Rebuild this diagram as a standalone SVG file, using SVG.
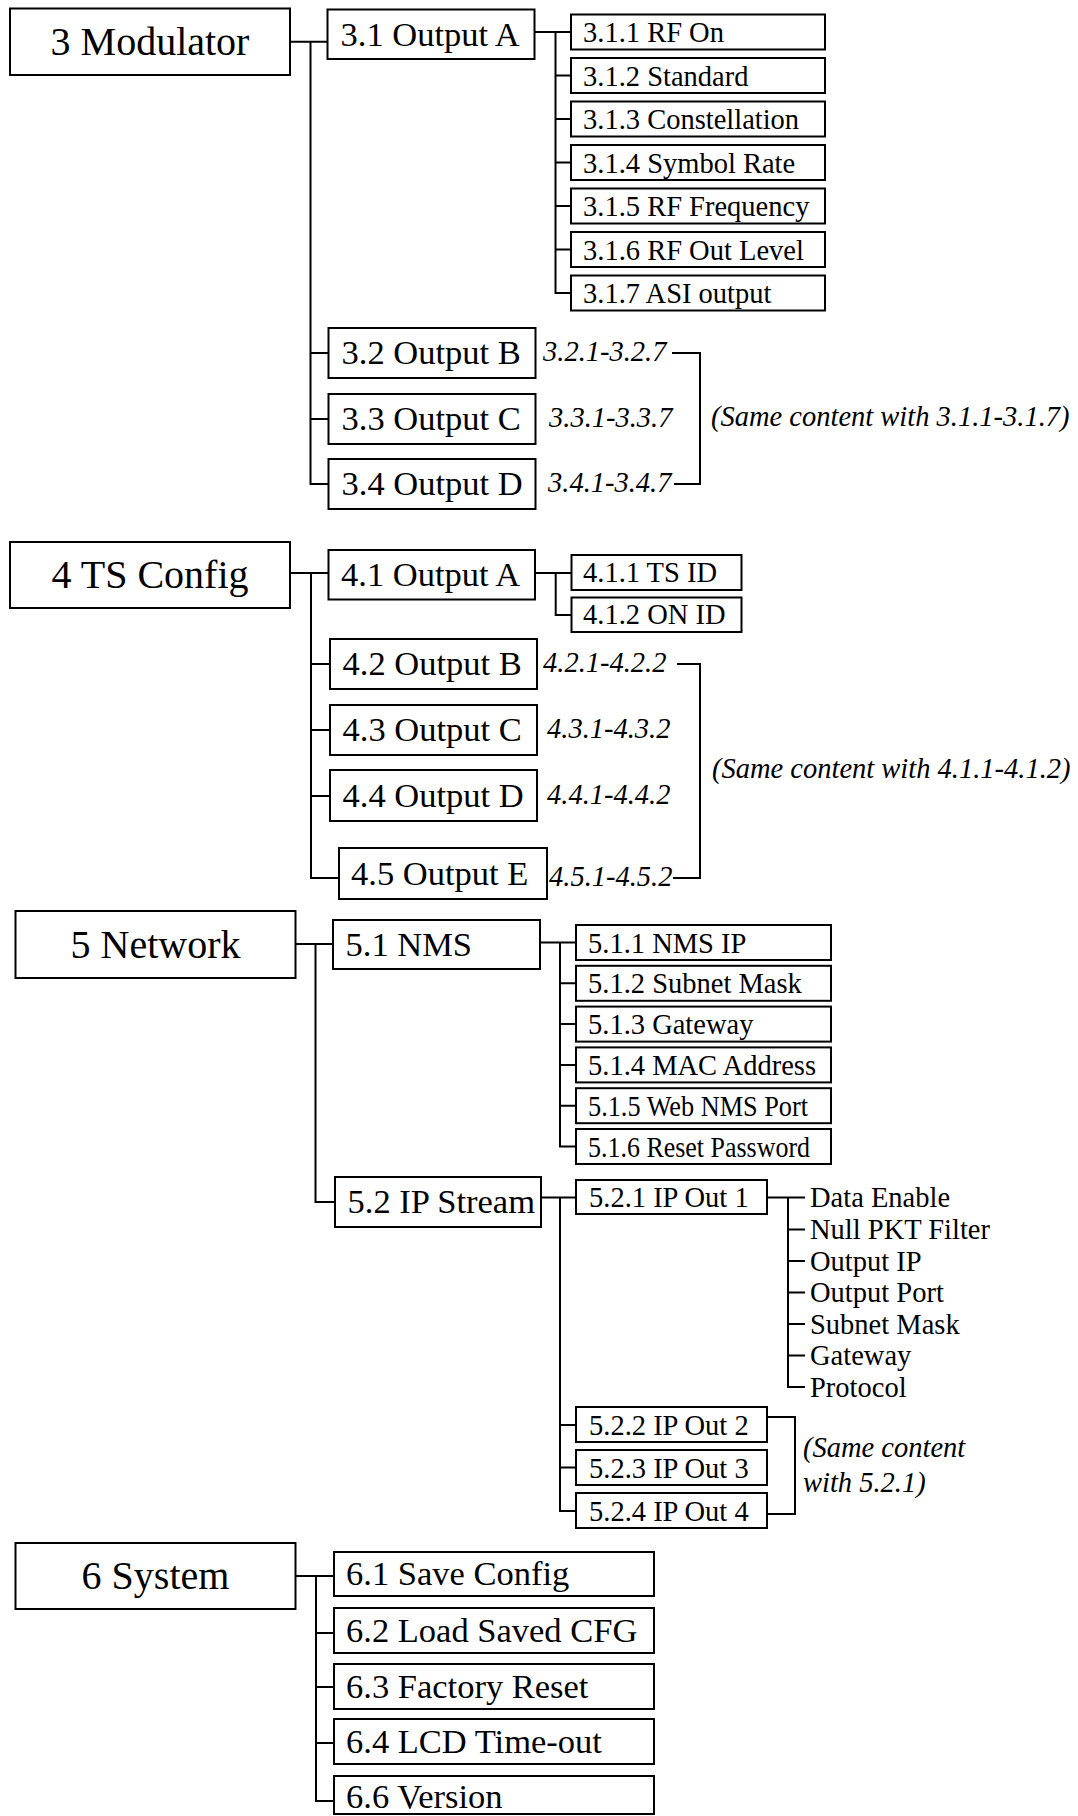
<svg xmlns="http://www.w3.org/2000/svg" width="1078" height="1816" viewBox="0 0 1078 1816">
<style>
text{font-family:"Liberation Serif","Times New Roman",serif;fill:#000}
.b{fill:#fff;stroke:#000;stroke-width:2}
.l1{font-size:40px;text-anchor:middle}
.l2{font-size:34.5px}
.l3{font-size:28.5px}
.it{font-size:28.5px;font-style:italic}
.c{fill:none;stroke:#000;stroke-width:2}
</style>
<rect width="1078" height="1816" fill="#fff"/>
<g id="connectors">
<path class="c" d="M290 41.7H327.5M310.5 41.7V484H328.5M310.5 353H328.5M310.5 419H328.5"/>
<path class="c" d="M534.5 32H571M555.5 32V293H571M555.5 75.5H571M555.5 119H571M555.5 162.5H571M555.5 206H571M555.5 249.5H571"/>
<path class="c" d="M672 353H700V484H674"/>
<path class="c" d="M290 573H328.5M311 573V878H339M311 664H330M311 730H330M311 796H330"/>
<path class="c" d="M535 573H571.5M555.7 573V615H571.5"/>
<path class="c" d="M677 664H700V878H673"/>
<path class="c" d="M295.5 944H333M315.5 944V1202H335"/>
<path class="c" d="M540 942.5H576M560 942.5V1146.5H576M560 983.3H576M560 1024.1H576M560 1064.9H576M560 1105.7H576"/>
<path class="c" d="M541 1197.5H576M560 1197.5V1511H576M560 1425H576M560 1467.5H576"/>
<path class="c" d="M767 1197.5H805M788 1197.5V1387H805M788 1229.5H805M788 1261H805M788 1292.5H805M788 1324H805M788 1355.5H805"/>
<path class="c" d="M767 1417H795V1514H767"/>
<path class="c" d="M295.5 1576H334M316 1576V1801H334M316 1633H334M316 1687H334M316 1743H334"/>
</g>
<g id="n3"><rect class="b" x="10" y="8.5" width="280" height="66.5"/><text class="l1" x="150" y="55">3 Modulator</text></g>
<g id="n3-1"><rect class="b" x="327.5" y="9.5" width="207" height="49.5"/><text class="l2" x="340.5" y="45.5">3.1 Output A</text></g>
<g id="n3-1-1"><rect class="b" x="571" y="14.5" width="254" height="35"/><text class="l3" x="583" y="42">3.1.1 RF On</text></g>
<g id="n3-1-2"><rect class="b" x="571" y="58" width="254" height="35"/><text class="l3" x="583" y="85.5">3.1.2 Standard</text></g>
<g id="n3-1-3"><rect class="b" x="571" y="101.5" width="254" height="35"/><text class="l3" x="583" y="129">3.1.3 Constellation</text></g>
<g id="n3-1-4"><rect class="b" x="571" y="145" width="254" height="35"/><text class="l3" x="583" y="172.5">3.1.4 Symbol Rate</text></g>
<g id="n3-1-5"><rect class="b" x="571" y="188.5" width="254" height="35"/><text class="l3" x="583" y="216">3.1.5 RF Frequency</text></g>
<g id="n3-1-6"><rect class="b" x="571" y="232" width="254" height="35"/><text class="l3" x="583" y="259.5">3.1.6 RF Out Level</text></g>
<g id="n3-1-7"><rect class="b" x="571" y="275.5" width="254" height="35"/><text class="l3" x="583" y="303">3.1.7 ASI output</text></g>
<g id="n3-2"><rect class="b" x="328.5" y="328" width="207" height="50"/><text class="l2" x="341.5" y="364">3.2 Output B</text><text class="it" x="543" y="361">3.2.1-3.2.7</text></g>
<g id="n3-3"><rect class="b" x="328.5" y="394" width="207" height="50"/><text class="l2" x="341.5" y="430">3.3 Output C</text><text class="it" x="549" y="427">3.3.1-3.3.7</text></g>
<g id="n3-4"><rect class="b" x="328.5" y="459" width="207" height="50"/><text class="l2" x="341.5" y="495">3.4 Output D</text><text class="it" x="548" y="492">3.4.1-3.4.7</text></g>
<g id="note3"><text class="it" x="711" y="426">(Same content with 3.1.1-3.1.7)</text></g>

<g id="n4"><rect class="b" x="10" y="542" width="280" height="66"/><text class="l1" x="150" y="588">4 TS Config</text></g>
<g id="n4-1"><rect class="b" x="328.5" y="550" width="206.5" height="49.5"/><text class="l2" x="341" y="586">4.1 Output A</text></g>
<g id="n4-1-1"><rect class="b" x="571.5" y="555" width="170" height="35"/><text class="l3" x="583" y="582">4.1.1 TS ID</text></g>
<g id="n4-1-2"><rect class="b" x="571.5" y="597.5" width="170" height="34.5"/><text class="l3" x="583" y="624">4.1.2 ON ID</text></g>
<g id="n4-2"><rect class="b" x="330" y="639" width="207" height="50"/><text class="l2" x="342.5" y="675">4.2 Output B</text><text class="it" x="543" y="672">4.2.1-4.2.2</text></g>
<g id="n4-3"><rect class="b" x="330" y="705" width="207" height="50"/><text class="l2" x="342.5" y="741">4.3 Output C</text><text class="it" x="547" y="738">4.3.1-4.3.2</text></g>
<g id="n4-4"><rect class="b" x="330" y="770" width="207" height="51"/><text class="l2" x="342.5" y="807">4.4 Output D</text><text class="it" x="547" y="804">4.4.1-4.4.2</text></g>
<g id="n4-5"><rect class="b" x="339" y="848" width="208" height="51"/><text class="l2" x="351" y="885">4.5 Output E</text><text class="it" x="549" y="886">4.5.1-4.5.2</text></g>
<g id="note4"><text class="it" x="712" y="778">(Same content with 4.1.1-4.1.2)</text></g>

<g id="n5"><rect class="b" x="15.5" y="911" width="280" height="67"/><text class="l1" x="155.5" y="958">5 Network</text></g>
<g id="n5-1"><rect class="b" x="333" y="920" width="207" height="49"/><text class="l2" x="345.5" y="955.5">5.1 NMS</text></g>
<g id="n5-1-1"><rect class="b" x="576" y="925" width="255" height="35"/><text class="l3" x="588" y="952.5">5.1.1 NMS IP</text></g>
<g id="n5-1-2"><rect class="b" x="576" y="965.8" width="255" height="35"/><text class="l3" x="588" y="993.3">5.1.2 Subnet Mask</text></g>
<g id="n5-1-3"><rect class="b" x="576" y="1006.6" width="255" height="35"/><text class="l3" x="588" y="1034.1">5.1.3 Gateway</text></g>
<g id="n5-1-4"><rect class="b" x="576" y="1047.4" width="255" height="35"/><text class="l3" x="588" y="1074.9">5.1.4 MAC Address</text></g>
<g id="n5-1-5"><rect class="b" x="576" y="1088.2" width="255" height="35"/><text class="l3" x="588" y="1115.7" textLength="220" lengthAdjust="spacingAndGlyphs">5.1.5 Web NMS Port</text></g>
<g id="n5-1-6"><rect class="b" x="576" y="1129" width="255" height="35"/><text class="l3" x="588" y="1156.5" textLength="222" lengthAdjust="spacingAndGlyphs">5.1.6 Reset Password</text></g>
<g id="n5-2"><rect class="b" x="335" y="1177" width="206" height="50"/><text class="l2" x="347.5" y="1213">5.2 IP Stream</text></g>
<g id="n5-2-1"><rect class="b" x="576" y="1180" width="191" height="34"/><text class="l3" x="589" y="1207">5.2.1 IP Out 1</text></g>
<g id="n5-2-1-items">
<text class="l3" x="810" y="1207">Data Enable</text>
<text class="l3" x="810" y="1239">Null PKT Filter</text>
<text class="l3" x="810" y="1270.5">Output IP</text>
<text class="l3" x="810" y="1302">Output Port</text>
<text class="l3" x="810" y="1333.5">Subnet Mask</text>
<text class="l3" x="810" y="1365">Gateway</text>
<text class="l3" x="810" y="1396.5">Protocol</text>
</g>
<g id="n5-2-2"><rect class="b" x="576" y="1407" width="191" height="35"/><text class="l3" x="589" y="1434.5">5.2.2 IP Out 2</text></g>
<g id="n5-2-3"><rect class="b" x="576" y="1450" width="191" height="35"/><text class="l3" x="589" y="1477.5">5.2.3 IP Out 3</text></g>
<g id="n5-2-4"><rect class="b" x="576" y="1493" width="191" height="35"/><text class="l3" x="589" y="1520.5">5.2.4 IP Out 4</text></g>
<g id="note5"><text class="it" x="803" y="1457">(Same content</text><text class="it" x="803" y="1492">with 5.2.1)</text></g>

<g id="n6"><rect class="b" x="15.5" y="1543" width="280" height="66"/><text class="l1" x="155.5" y="1589">6 System</text></g>
<g id="n6-1"><rect class="b" x="334" y="1552" width="320" height="44"/><text class="l2" x="346" y="1585">6.1 Save Config</text></g>
<g id="n6-2"><rect class="b" x="334" y="1608" width="320" height="45"/><text class="l2" x="346" y="1641.5">6.2 Load Saved CFG</text></g>
<g id="n6-3"><rect class="b" x="334" y="1664" width="320" height="45"/><text class="l2" x="346" y="1697.5">6.3 Factory Reset</text></g>
<g id="n6-4"><rect class="b" x="334" y="1719" width="320" height="45"/><text class="l2" x="346" y="1752.5">6.4 LCD Time-out</text></g>
<g id="n6-6"><rect class="b" x="334" y="1776" width="320" height="38"/><text class="l2" x="346" y="1808">6.6 Version</text></g>
</svg>
